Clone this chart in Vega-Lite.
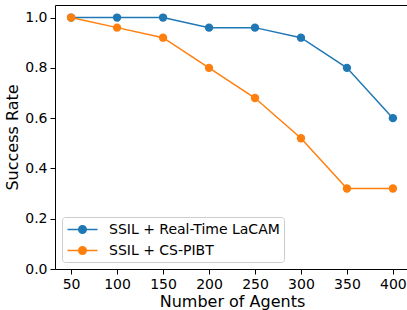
{
  "$schema": "https://vega.github.io/schema/vega-lite/v6.json",
  "width": 354,
  "height": 264,
  "autosize": {"type": "none"},
  "padding": {"left": 55, "top": 5, "right": 0, "bottom": 41},
  "background": "white",
  "data": {
    "values": [
      {"agents": 50, "rate": 1.0, "method": "SSIL + Real-Time LaCAM"},
      {"agents": 100, "rate": 1.0, "method": "SSIL + Real-Time LaCAM"},
      {"agents": 150, "rate": 1.0, "method": "SSIL + Real-Time LaCAM"},
      {"agents": 200, "rate": 0.96, "method": "SSIL + Real-Time LaCAM"},
      {"agents": 250, "rate": 0.96, "method": "SSIL + Real-Time LaCAM"},
      {"agents": 300, "rate": 0.92, "method": "SSIL + Real-Time LaCAM"},
      {"agents": 350, "rate": 0.8, "method": "SSIL + Real-Time LaCAM"},
      {"agents": 400, "rate": 0.6, "method": "SSIL + Real-Time LaCAM"},
      {"agents": 50, "rate": 1.0, "method": "SSIL + CS-PIBT"},
      {"agents": 100, "rate": 0.96, "method": "SSIL + CS-PIBT"},
      {"agents": 150, "rate": 0.92, "method": "SSIL + CS-PIBT"},
      {"agents": 200, "rate": 0.8, "method": "SSIL + CS-PIBT"},
      {"agents": 250, "rate": 0.68, "method": "SSIL + CS-PIBT"},
      {"agents": 300, "rate": 0.52, "method": "SSIL + CS-PIBT"},
      {"agents": 350, "rate": 0.32, "method": "SSIL + CS-PIBT"},
      {"agents": 400, "rate": 0.32, "method": "SSIL + CS-PIBT"}
    ]
  },
  "config": {
    "font": "DejaVu Sans",
    "view": {"stroke": "#000", "strokeWidth": 1},
    "axis": {
      "grid": false,
      "domain": false,
      "labelFont": "DejaVu Sans",
      "titleFont": "DejaVu Sans",
      "labelFontSize": 14,
      "titleFontSize": 16,
      "titleFontWeight": "normal",
      "labelColor": "#000",
      "titleColor": "#000",
      "tickColor": "#000",
      "tickSize": 5,
      "tickWidth": 1,
      "labelPadding": 3
    },
    "legend": {
      "labelFont": "DejaVu Sans",
      "labelFontSize": 14,
      "labelColor": "#000",
      "labelLimit": 400
    }
  },
  "mark": {
    "type": "line",
    "strokeWidth": 1.5,
    "point": {"filled": true, "size": 70, "opacity": 1}
  },
  "encoding": {
    "x": {
      "field": "agents",
      "type": "quantitative",
      "scale": {"domain": [32.5, 417.5], "nice": false, "zero": false},
      "axis": {
        "values": [50, 100, 150, 200, 250, 300, 350, 400],
        "title": "Number of Agents",
        "titlePadding": 2
      }
    },
    "y": {
      "field": "rate",
      "type": "quantitative",
      "scale": {"domain": [0, 1.05], "nice": false},
      "axis": {
        "values": [0, 0.2, 0.4, 0.6, 0.8, 1.0],
        "format": ".1f",
        "title": "Success Rate",
        "titlePadding": 4
      }
    },
    "color": {
      "field": "method",
      "type": "nominal",
      "sort": null,
      "scale": {
        "domain": ["SSIL + Real-Time LaCAM", "SSIL + CS-PIBT"],
        "range": ["#1f77b4", "#ff7f0e"]
      },
      "legend": {
        "title": null,
        "orient": "bottom-left",
        "offset": 7,
        "padding": 4,
        "fillColor": "white",
        "strokeColor": "#cccccc",
        "cornerRadius": 3,
        "symbolType": "M-0.933,0L3.067,0M0.567,0A0.5,0.5,0,1,0,1.567,0A0.5,0.5,0,1,0,0.567,0Z",
        "symbolSize": 225,
        "symbolStrokeWidth": 1.5,
        "symbolOpacity": 1,
        "labelOffset": 26,
        "rowPadding": 5,
        "labelLimit": 400,
        "encode": {
          "symbols": {
            "update": {
              "fill": {"scale": "color", "field": "value"},
              "stroke": {"scale": "color", "field": "value"}
            }
          }
        }
      }
    }
  }
}
